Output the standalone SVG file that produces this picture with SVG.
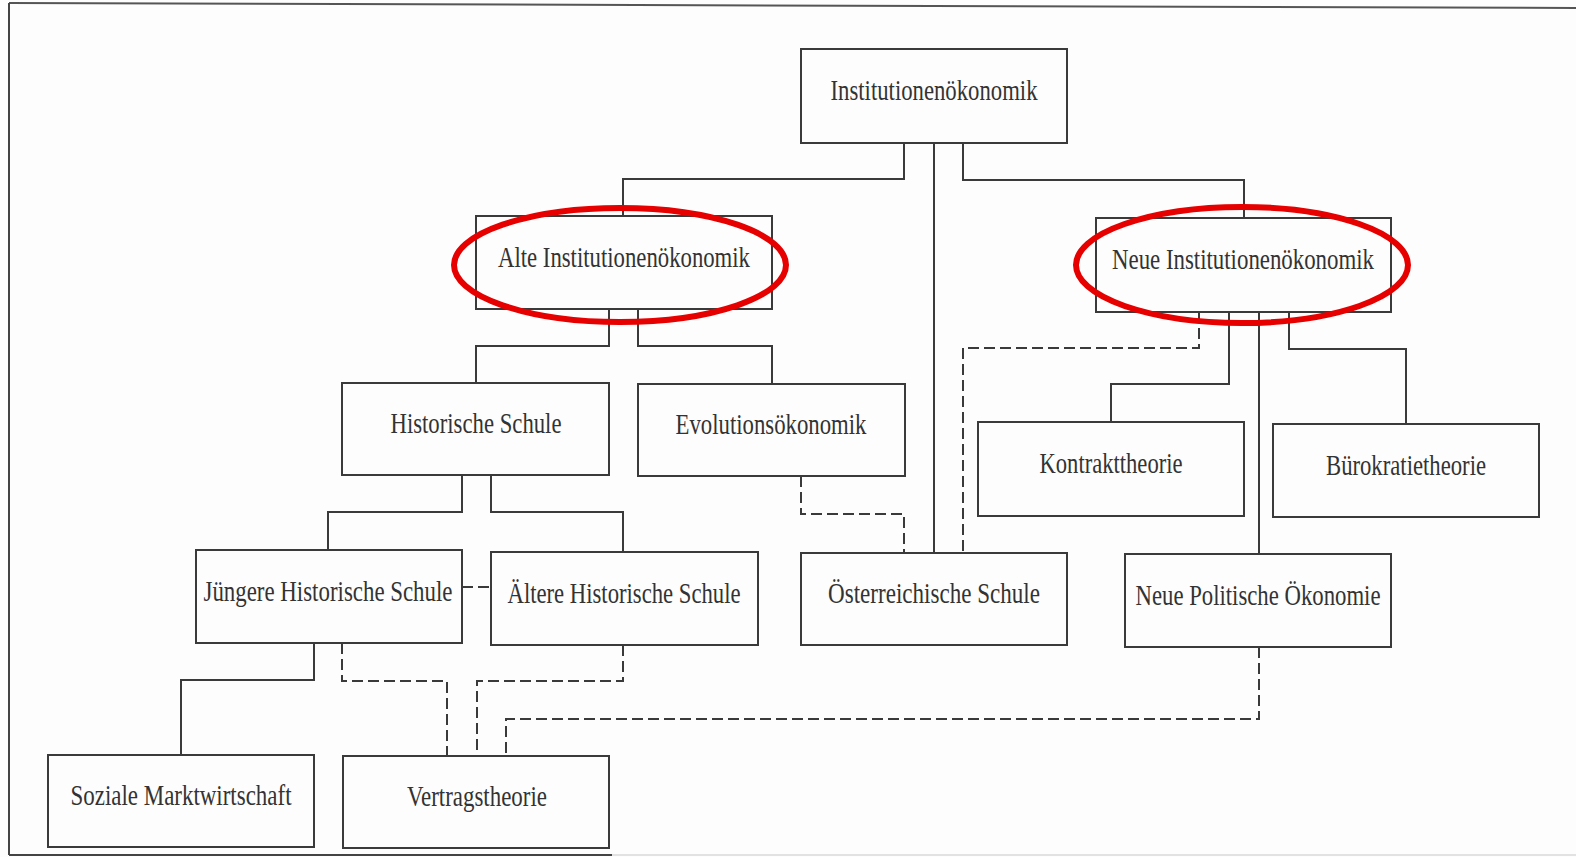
<svg xmlns="http://www.w3.org/2000/svg" width="1576" height="857" viewBox="0 0 1576 857">
<defs>
<style>
.box{fill:#fdfdfd;stroke:#3a3a3a;stroke-width:2}
.lbl{font-family:"Liberation Serif","Times New Roman",serif;font-size:29px;fill:#333;text-anchor:middle}
.ln{fill:none;stroke:#3a3a3a;stroke-width:2}
.dash{fill:none;stroke:#3a3a3a;stroke-width:2;stroke-dasharray:11 5}
.hl{fill:none;stroke:#e60000;stroke-width:6}
</style>
</defs>
<rect x="0" y="0" width="1576" height="857" fill="#fdfdfd"/>
<g id="frame">
<line x1="9" y1="3" x2="1576" y2="8" stroke="#555" stroke-width="2"/>
<line x1="9" y1="3" x2="9" y2="855" stroke="#444" stroke-width="2"/>
<line x1="9" y1="855" x2="612" y2="855" stroke="#444" stroke-width="2"/>
<line x1="612" y1="855" x2="1576" y2="855" stroke="#e2e2e2" stroke-width="2"/>
</g>
<g id="connectors">
<polyline class="ln" points="904,143 904,179 623,179 623,216"/>
<line class="ln" x1="934" y1="143" x2="934" y2="553"/>
<polyline class="ln" points="963,143 963,180 1244,180 1244,218"/>
<polyline class="ln" points="609,309 609,346 476,346 476,383"/>
<polyline class="ln" points="638,309 638,346 772,346 772,384"/>
<polyline class="dash" points="1199,312 1199,348 963,348 963,553"/>
<polyline class="ln" points="1229,312 1229,384 1111,384 1111,422"/>
<line class="ln" x1="1259" y1="312" x2="1259" y2="554"/>
<polyline class="ln" points="1289,312 1289,349 1406,349 1406,424"/>
<polyline class="dash" points="801,476 801,514 904,514 904,553"/>
<polyline class="ln" points="462,475 462,512 328,512 328,550"/>
<polyline class="ln" points="491,475 491,512 623,512 623,552"/>
<line class="dash" x1="462" y1="587" x2="491" y2="587" stroke-dasharray="8 4"/>
<polyline class="ln" points="314,643 314,680 181,680 181,755"/>
<polyline class="dash" points="342,643 342,681 447,681 447,756"/>
<polyline class="dash" points="623,645 623,681 477,681 477,756"/>
<polyline class="dash" points="1259,647 1259,719 506,719 506,756"/>
</g>
<g id="n-institutionen"><rect class="box" x="801" y="49" width="266" height="94"/><text class="lbl" x="934" y="100" textLength="207" lengthAdjust="spacingAndGlyphs">Institutionenökonomik</text></g>
<g id="n-alte"><rect class="box" x="476" y="216" width="296" height="93"/><text class="lbl" x="624" y="267" textLength="252" lengthAdjust="spacingAndGlyphs">Alte Institutionenökonomik</text></g>
<g id="n-neue"><rect class="box" x="1096" y="218" width="295" height="94"/><text class="lbl" x="1243" y="269" textLength="262" lengthAdjust="spacingAndGlyphs">Neue Institutionenökonomik</text></g>
<g id="n-historische"><rect class="box" x="342" y="383" width="267" height="92"/><text class="lbl" x="476" y="433" textLength="171" lengthAdjust="spacingAndGlyphs">Historische Schule</text></g>
<g id="n-evolution"><rect class="box" x="638" y="384" width="267" height="92"/><text class="lbl" x="771" y="434" textLength="191" lengthAdjust="spacingAndGlyphs">Evolutionsökonomik</text></g>
<g id="n-kontrakt"><rect class="box" x="978" y="422" width="266" height="94"/><text class="lbl" x="1111" y="473" textLength="143" lengthAdjust="spacingAndGlyphs">Kontrakttheorie</text></g>
<g id="n-buerokratie"><rect class="box" x="1273" y="424" width="266" height="93"/><text class="lbl" x="1406" y="475" textLength="160" lengthAdjust="spacingAndGlyphs">Bürokratietheorie</text></g>
<g id="n-juengere"><rect class="box" x="196" y="550" width="266" height="93"/><text class="lbl" x="328" y="601" textLength="249" lengthAdjust="spacingAndGlyphs">Jüngere Historische Schule</text></g>
<g id="n-aeltere"><rect class="box" x="491" y="552" width="267" height="93"/><text class="lbl" x="624" y="603" textLength="233" lengthAdjust="spacingAndGlyphs">Ältere Historische Schule</text></g>
<g id="n-oesterreich"><rect class="box" x="801" y="553" width="266" height="92"/><text class="lbl" x="934" y="603" textLength="212" lengthAdjust="spacingAndGlyphs">Österreichische Schule</text></g>
<g id="n-npoe"><rect class="box" x="1125" y="554" width="266" height="93"/><text class="lbl" x="1258" y="605" textLength="245" lengthAdjust="spacingAndGlyphs">Neue Politische Ökonomie</text></g>
<g id="n-soziale"><rect class="box" x="48" y="755" width="266" height="92"/><text class="lbl" x="181" y="805" textLength="221" lengthAdjust="spacingAndGlyphs">Soziale Marktwirtschaft</text></g>
<g id="n-vertrag"><rect class="box" x="343" y="756" width="266" height="92"/><text class="lbl" x="477" y="806" textLength="140" lengthAdjust="spacingAndGlyphs">Vertragstheorie</text></g>
<g id="highlights">
<ellipse class="hl" cx="620" cy="265" rx="166" ry="57"/>
<ellipse class="hl" cx="1242" cy="265" rx="166" ry="58"/>
</g>
</svg>
